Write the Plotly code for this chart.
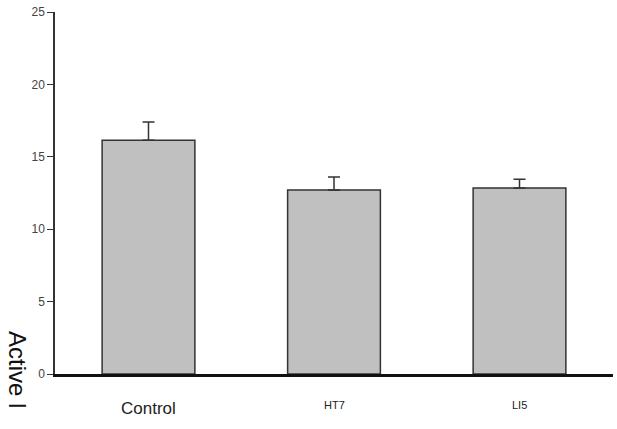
import plotly.graph_objects as go

categories = ["Control", "HT7", "LI5"]
means = [16.15, 12.7, 12.85]
errors = [1.25, 0.9, 0.6]
label_sizes = [17, 11, 11]
y_ticks = [0, 5, 10, 15, 20, 25]
y_title = "Active l"

FONT = "Arial, Liberation Sans, sans-serif"

fig = go.Figure()
fig.add_trace(go.Bar(
    x=list(range(len(categories))),
    y=means,
    width=0.5,
    marker=dict(color="#c0c0c0", line=dict(color="#333333", width=1.5)),
    error_y=dict(type="data", array=errors, arrayminus=[0] * len(errors),
                 symmetric=False, color="#333333", thickness=1.5, width=6),
    showlegend=False,
))

for i, (c, s) in enumerate(zip(categories, label_sizes)):
    fig.add_annotation(x=i, xref="x", y=-0.095 if s > 12 else -0.085, yref="paper",
                       text=c, showarrow=False, yanchor="middle",
                       font=dict(family=FONT, size=s, color="#222222"))

fig.add_annotation(x=4, xref="paper", xanchor="left", y=0.1215, yref="paper",
                   text=y_title, textangle=90, showarrow=False,
                   yanchor="top", borderpad=0,
                   font=dict(family=FONT, size=24, color="#111111"))
# position in pixels converted to paper coordinates
fig.layout.annotations[-1].x = (3 - 55) / 558

fig.update_layout(
    width=617, height=429,
    margin=dict(l=55, r=4, t=12, b=55),
    paper_bgcolor="white", plot_bgcolor="white",
    font=dict(family=FONT),
    xaxis=dict(range=[-0.504, 2.504], showticklabels=False, ticks="",
               showgrid=False, zeroline=False, showline=True,
               linecolor="#111111", linewidth=2.5),
    yaxis=dict(range=[0, 25], tickvals=y_ticks, ticks="outside", ticklen=6,
               tickwidth=1.2, tickcolor="#333333", showgrid=False,
               zeroline=False, showline=True, linecolor="#333333", linewidth=1.5,
               tickfont=dict(family=FONT, size=12, color="#444444")),
)

fig.write_html("out.html")
